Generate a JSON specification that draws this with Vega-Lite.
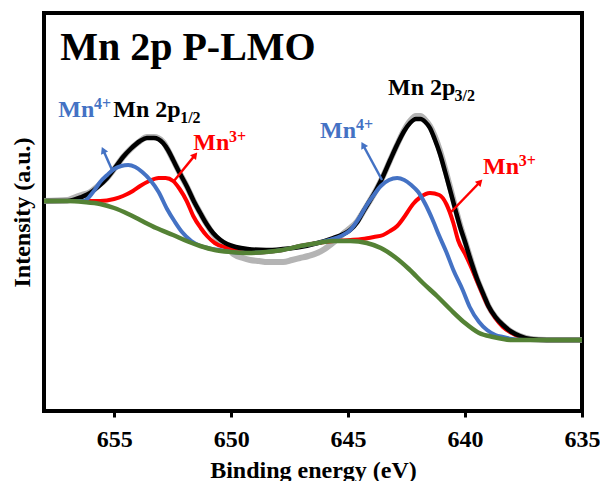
{
  "$schema": "https://vega.github.io/schema/vega-lite/v6.json",
  "width": 538,
  "height": 398,
  "autosize": {"type": "none"},
  "padding": {"left": 44, "top": 13, "right": 18, "bottom": 70},
  "background": "white",
  "config": {"view": {"stroke": "black", "strokeWidth": 4}, "font": "Liberation Serif"},
  "datasets": {
    "curves": [
      {"s":"raw","x":658.0,"y":211},{"s":"raw","x":657.0,"y":212},{"s":"raw","x":656.75,"y":214},{"s":"raw","x":656.4,"y":217},{"s":"raw","x":656.03,"y":220},{"s":"raw","x":655.7,"y":226},{"s":"raw","x":655.3,"y":234},{"s":"raw","x":655.0,"y":243},{"s":"raw","x":654.62,"y":255},{"s":"raw","x":654.3,"y":263},{"s":"raw","x":653.89,"y":271},{"s":"raw","x":653.6,"y":275},{"s":"raw","x":653.3,"y":275},{"s":"raw","x":652.91,"y":270},{"s":"raw","x":652.7,"y":262},{"s":"raw","x":652.48,"y":252},{"s":"raw","x":652.2,"y":239},{"s":"raw","x":651.88,"y":225},{"s":"raw","x":651.6,"y":211},{"s":"raw","x":651.32,"y":199},{"s":"raw","x":651.05,"y":188},{"s":"raw","x":650.77,"y":178},{"s":"raw","x":650.45,"y":170},{"s":"raw","x":650.17,"y":164},{"s":"raw","x":649.9,"y":158},{"s":"raw","x":649.5,"y":154},{"s":"raw","x":649.19,"y":152},{"s":"raw","x":648.8,"y":151},{"s":"raw","x":648.46,"y":150},{"s":"raw","x":647.78,"y":150},{"s":"raw","x":647.4,"y":152},{"s":"raw","x":647.05,"y":154},{"s":"raw","x":646.7,"y":156},{"s":"raw","x":646.32,"y":159},{"s":"raw","x":646.0,"y":163},{"s":"raw","x":645.77,"y":167},{"s":"raw","x":645.45,"y":173},{"s":"raw","x":645.13,"y":180},{"s":"raw","x":644.91,"y":184},{"s":"raw","x":644.6,"y":191},{"s":"raw","x":644.36,"y":200},{"s":"raw","x":644.1,"y":210},{"s":"raw","x":643.8,"y":222},{"s":"raw","x":643.5,"y":236},{"s":"raw","x":643.2,"y":252},{"s":"raw","x":642.91,"y":267},{"s":"raw","x":642.6,"y":282},{"s":"raw","x":642.35,"y":291},{"s":"raw","x":642.1,"y":296},{"s":"raw","x":641.9,"y":296},{"s":"raw","x":641.7,"y":292},{"s":"raw","x":641.5,"y":286},{"s":"raw","x":641.3,"y":276},{"s":"raw","x":641.07,"y":261},{"s":"raw","x":640.85,"y":243},{"s":"raw","x":640.64,"y":225},{"s":"raw","x":640.4,"y":203},{"s":"raw","x":640.21,"y":187},{"s":"raw","x":640.0,"y":171},{"s":"raw","x":639.79,"y":155},{"s":"raw","x":639.5,"y":134},{"s":"raw","x":639.2,"y":117},{"s":"raw","x":639.0,"y":106},{"s":"raw","x":638.7,"y":95},{"s":"raw","x":638.38,"y":87},{"s":"raw","x":638.0,"y":80},{"s":"raw","x":637.65,"y":76},{"s":"raw","x":637.2,"y":73},{"s":"raw","x":636.5,"y":72},{"s":"raw","x":635.0,"y":72},

      {"s":"fit","x":658.0,"y":211},{"s":"fit","x":657.0,"y":211},{"s":"fit","x":656.75,"y":212},{"s":"fit","x":656.4,"y":215},{"s":"fit","x":656.03,"y":219},{"s":"fit","x":655.7,"y":225},{"s":"fit","x":655.3,"y":234},{"s":"fit","x":655.0,"y":243},{"s":"fit","x":654.62,"y":255},{"s":"fit","x":654.3,"y":263},{"s":"fit","x":653.89,"y":271},{"s":"fit","x":653.6,"y":274},{"s":"fit","x":653.3,"y":274},{"s":"fit","x":652.91,"y":269},{"s":"fit","x":652.7,"y":262},{"s":"fit","x":652.48,"y":252},{"s":"fit","x":652.2,"y":239},{"s":"fit","x":651.88,"y":225},{"s":"fit","x":651.6,"y":211},{"s":"fit","x":651.32,"y":199},{"s":"fit","x":651.05,"y":188},{"s":"fit","x":650.77,"y":179},{"s":"fit","x":650.45,"y":172},{"s":"fit","x":650.17,"y":168},{"s":"fit","x":649.8,"y":165},{"s":"fit","x":649.3,"y":163},{"s":"fit","x":648.5,"y":162},{"s":"fit","x":647.8,"y":163},{"s":"fit","x":647.05,"y":165},{"s":"fit","x":646.3,"y":169},{"s":"fit","x":645.64,"y":174},{"s":"fit","x":645.2,"y":178},{"s":"fit","x":644.91,"y":182},{"s":"fit","x":644.6,"y":190},{"s":"fit","x":644.36,"y":200},{"s":"fit","x":644.1,"y":210},{"s":"fit","x":643.8,"y":222},{"s":"fit","x":643.5,"y":236},{"s":"fit","x":643.2,"y":252},{"s":"fit","x":642.91,"y":267},{"s":"fit","x":642.6,"y":281},{"s":"fit","x":642.35,"y":289},{"s":"fit","x":642.1,"y":293},{"s":"fit","x":641.9,"y":293},{"s":"fit","x":641.7,"y":290},{"s":"fit","x":641.5,"y":284},{"s":"fit","x":641.3,"y":273},{"s":"fit","x":641.07,"y":258},{"s":"fit","x":640.85,"y":240},{"s":"fit","x":640.64,"y":222},{"s":"fit","x":640.4,"y":201},{"s":"fit","x":640.21,"y":185},{"s":"fit","x":640.0,"y":170},{"s":"fit","x":639.79,"y":154},{"s":"fit","x":639.5,"y":134},{"s":"fit","x":639.2,"y":117},{"s":"fit","x":639.0,"y":106},{"s":"fit","x":638.7,"y":95},{"s":"fit","x":638.38,"y":87},{"s":"fit","x":638.0,"y":80},{"s":"fit","x":637.65,"y":76},{"s":"fit","x":637.2,"y":73},{"s":"fit","x":636.5,"y":72},{"s":"fit","x":635.0,"y":72},

      {"s":"Mn4+","x":658.0,"y":211},{"s":"Mn4+","x":657.0,"y":211},{"s":"Mn4+","x":656.3,"y":211},{"s":"Mn4+","x":655.9,"y":220},{"s":"Mn4+","x":655.6,"y":230},{"s":"Mn4+","x":655.3,"y":237},{"s":"Mn4+","x":655.0,"y":243},{"s":"Mn4+","x":654.7,"y":246},{"s":"Mn4+","x":654.4,"y":247},{"s":"Mn4+","x":654.1,"y":245},{"s":"Mn4+","x":653.8,"y":240},{"s":"Mn4+","x":653.46,"y":232},{"s":"Mn4+","x":653.1,"y":220},{"s":"Mn4+","x":652.74,"y":203},{"s":"Mn4+","x":652.4,"y":190},{"s":"Mn4+","x":652.1,"y":180},{"s":"Mn4+","x":651.7,"y":171},{"s":"Mn4+","x":651.3,"y":166},{"s":"Mn4+","x":651.0,"y":164},{"s":"Mn4+","x":650.5,"y":162},{"s":"Mn4+","x":650.0,"y":160},{"s":"Mn4+","x":649.3,"y":159},{"s":"Mn4+","x":648.5,"y":160},{"s":"Mn4+","x":647.8,"y":162},{"s":"Mn4+","x":647.05,"y":166},{"s":"Mn4+","x":646.3,"y":169},{"s":"Mn4+","x":645.8,"y":172},{"s":"Mn4+","x":645.3,"y":176},{"s":"Mn4+","x":644.9,"y":182},{"s":"Mn4+","x":644.5,"y":195},{"s":"Mn4+","x":644.2,"y":207},{"s":"Mn4+","x":643.9,"y":217},{"s":"Mn4+","x":643.6,"y":226},{"s":"Mn4+","x":643.25,"y":232},{"s":"Mn4+","x":642.9,"y":234},{"s":"Mn4+","x":642.6,"y":232},{"s":"Mn4+","x":642.3,"y":227},{"s":"Mn4+","x":642.0,"y":220},{"s":"Mn4+","x":641.7,"y":208},{"s":"Mn4+","x":641.4,"y":193},{"s":"Mn4+","x":641.1,"y":176},{"s":"Mn4+","x":640.8,"y":160},{"s":"Mn4+","x":640.5,"y":142},{"s":"Mn4+","x":640.1,"y":122},{"s":"Mn4+","x":639.8,"y":105},{"s":"Mn4+","x":639.4,"y":90},{"s":"Mn4+","x":639.06,"y":82},{"s":"Mn4+","x":638.7,"y":77},{"s":"Mn4+","x":638.38,"y":75},{"s":"Mn4+","x":638.0,"y":73},{"s":"Mn4+","x":637.5,"y":72},{"s":"Mn4+","x":635.0,"y":72},

      {"s":"Mn3+","x":658.0,"y":211},{"s":"Mn3+","x":657.0,"y":211},{"s":"Mn3+","x":656.3,"y":211},{"s":"Mn3+","x":655.6,"y":211},{"s":"Mn3+","x":655.0,"y":213},{"s":"Mn3+","x":654.62,"y":216},{"s":"Mn3+","x":654.2,"y":221},{"s":"Mn3+","x":653.89,"y":226},{"s":"Mn3+","x":653.5,"y":231},{"s":"Mn3+","x":653.1,"y":234},{"s":"Mn3+","x":652.8,"y":234},{"s":"Mn3+","x":652.48,"y":231},{"s":"Mn3+","x":652.2,"y":223},{"s":"Mn3+","x":651.9,"y":211},{"s":"Mn3+","x":651.62,"y":196},{"s":"Mn3+","x":651.3,"y":184},{"s":"Mn3+","x":651.03,"y":176},{"s":"Mn3+","x":650.7,"y":169},{"s":"Mn3+","x":650.17,"y":164},{"s":"Mn3+","x":649.6,"y":160},{"s":"Mn3+","x":649.3,"y":159},{"s":"Mn3+","x":648.5,"y":160},{"s":"Mn3+","x":647.8,"y":162},{"s":"Mn3+","x":647.05,"y":166},{"s":"Mn3+","x":646.3,"y":169},{"s":"Mn3+","x":645.6,"y":171},{"s":"Mn3+","x":644.9,"y":172},{"s":"Mn3+","x":644.4,"y":173},{"s":"Mn3+","x":643.9,"y":175},{"s":"Mn3+","x":643.5,"y":177},{"s":"Mn3+","x":643.2,"y":181},{"s":"Mn3+","x":642.9,"y":186},{"s":"Mn3+","x":642.6,"y":195},{"s":"Mn3+","x":642.22,"y":208},{"s":"Mn3+","x":641.9,"y":215},{"s":"Mn3+","x":641.5,"y":219},{"s":"Mn3+","x":641.1,"y":217},{"s":"Mn3+","x":640.8,"y":208},{"s":"Mn3+","x":640.5,"y":189},{"s":"Mn3+","x":640.3,"y":172},{"s":"Mn3+","x":640.0,"y":158},{"s":"Mn3+","x":639.8,"y":148},{"s":"Mn3+","x":639.4,"y":126},{"s":"Mn3+","x":639.06,"y":108},{"s":"Mn3+","x":638.7,"y":94},{"s":"Mn3+","x":638.38,"y":85},{"s":"Mn3+","x":638.0,"y":79},{"s":"Mn3+","x":637.65,"y":75},{"s":"Mn3+","x":637.0,"y":72},{"s":"Mn3+","x":635.0,"y":72},

      {"s":"bg","x":658.0,"y":211},{"s":"bg","x":657.0,"y":211},{"s":"bg","x":656.3,"y":210},{"s":"bg","x":655.6,"y":208},{"s":"bg","x":655.0,"y":204},{"s":"bg","x":654.4,"y":198},{"s":"bg","x":653.89,"y":192},{"s":"bg","x":653.2,"y":184},{"s":"bg","x":652.48,"y":177},{"s":"bg","x":651.9,"y":171},{"s":"bg","x":651.32,"y":166},{"s":"bg","x":650.7,"y":162},{"s":"bg","x":650.0,"y":160},{"s":"bg","x":649.3,"y":159},{"s":"bg","x":648.5,"y":160},{"s":"bg","x":647.8,"y":162},{"s":"bg","x":647.05,"y":166},{"s":"bg","x":646.3,"y":169},{"s":"bg","x":645.6,"y":171},{"s":"bg","x":644.9,"y":171},{"s":"bg","x":644.2,"y":169},{"s":"bg","x":643.6,"y":164},{"s":"bg","x":643.0,"y":155},{"s":"bg","x":642.4,"y":143},{"s":"bg","x":641.8,"y":129},{"s":"bg","x":641.2,"y":116},{"s":"bg","x":640.6,"y":102},{"s":"bg","x":640.0,"y":89},{"s":"bg","x":639.4,"y":79},{"s":"bg","x":638.8,"y":75},{"s":"bg","x":638.0,"y":72},{"s":"bg","x":637.0,"y":72},{"s":"bg","x":635.0,"y":72}
    ],
    "arrows": [
      {"a":"lb","c":"Mn4+","x":655.09,"y":242,"x2":655.47,"y2":262},
      {"a":"lr","c":"Mn3+","x":652.48,"y":230,"x2":651.54,"y2":257},
      {"a":"rb","c":"Mn4+","x":643.55,"y":232,"x2":644.36,"y2":267},
      {"a":"rr","c":"Mn3+","x":640.64,"y":199,"x2":639.36,"y2":230}
    ],
    "labels": [
      {"t":"Mn 2p P-LMO","c":"fit","k":"title","x":657.31,"y":352},
      {"t":"Mn","c":"Mn4+","k":"main","x":657.39,"y":295},
      {"t":"4+","c":"Mn4+","k":"small","x":655.86,"y":303},
      {"t":"Mn 2p","c":"fit","k":"main","x":655.04,"y":295},
      {"t":"1/2","c":"fit","k":"small","x":652.18,"y":289},
      {"t":"Mn","c":"Mn3+","k":"main","x":651.62,"y":262},
      {"t":"3+","c":"Mn3+","k":"small","x":650.09,"y":270},
      {"t":"Mn 2p","c":"fit","k":"main","x":643.29,"y":317},
      {"t":"3/2","c":"fit","k":"small","x":640.45,"y":311},
      {"t":"Mn","c":"Mn4+","k":"main","x":646.2,"y":274},
      {"t":"4+","c":"Mn4+","k":"small","x":644.66,"y":282},
      {"t":"Mn","c":"Mn3+","k":"main","x":639.23,"y":238},
      {"t":"3+","c":"Mn3+","k":"small","x":637.7,"y":246}
    ]
  },
  "encoding": {
    "x": {"field": "x", "type": "quantitative",
      "scale": {"domain": [635, 658.0], "reverse": true, "nice": false, "zero": false},
      "axis": {"values": [655, 650, 645, 640, 635], "title": "Binding energy (eV)", "grid": false, "domain": false,
        "labelFont": "Liberation Serif", "labelFontSize": 24, "labelFontWeight": "bold", "labelColor": "black", "labelFlush": false,
        "tickColor": "black", "tickWidth": 3, "tickSize": 6, "labelPadding": 10,
        "titleFont": "Liberation Serif", "titleFontSize": 24, "titleFontWeight": "bold", "titleColor": "black", "titlePadding": 7}},
    "y": {"field": "y", "type": "quantitative",
      "scale": {"domain": [1, 399], "nice": false, "zero": false},
      "axis": {"title": "Intensity (a.u.)", "labels": false, "ticks": false, "domain": false, "grid": false,
        "titleFont": "Liberation Serif", "titleFontSize": 24, "titleFontWeight": "bold", "titleColor": "black", "titlePadding": 10}}
  },
  "layer": [
    {"data": {"name": "curves"}, "transform": [{"filter": {"field": "s", "equal": "raw"}}],
     "mark": {"type": "line", "color": "#b4b4b4", "strokeWidth": 6, "interpolate": "monotone", "clip": true}},
    {"data": {"name": "curves"}, "transform": [{"filter": {"field": "s", "equal": "Mn3+"}}],
     "mark": {"type": "line", "color": "#ff0000", "strokeWidth": 4, "interpolate": "monotone", "clip": true}},
    {"data": {"name": "curves"}, "transform": [{"filter": {"field": "s", "equal": "fit"}}],
     "mark": {"type": "line", "color": "#000000", "strokeWidth": 4.5, "interpolate": "monotone", "clip": true}},
    {"data": {"name": "curves"}, "transform": [{"filter": {"field": "s", "equal": "Mn4+"}}],
     "mark": {"type": "line", "color": "#4472c4", "strokeWidth": 4, "interpolate": "monotone", "clip": true}},
    {"data": {"name": "curves"}, "transform": [{"filter": {"field": "s", "equal": "bg"}}],
     "mark": {"type": "line", "color": "#548235", "strokeWidth": 4.5, "interpolate": "monotone", "clip": true}},
    {"data": {"name": "arrows"}, "mark": {"type": "rule", "strokeWidth": 2.5},
     "encoding": {"x2": {"field": "x2"}, "y2": {"field": "y2"},
       "color": {"field": "c", "type": "nominal", "scale": {"domain": ["fit", "Mn4+", "Mn3+"], "range": ["#000000", "#4472c4", "#ff0000"]}, "legend": null}}},
    {"data": {"name": "arrows"}, "transform": [{"filter": {"field": "a", "equal": "lb"}}],
     "mark": {"type": "point", "shape": "triangle-up", "filled": true, "opacity": 1, "size": 60, "angle": 336, "color": "#4472c4"},
     "encoding": {"x": {"field": "x2", "type": "quantitative"}, "y": {"field": "y2", "type": "quantitative"}}},
    {"data": {"name": "arrows"}, "transform": [{"filter": {"field": "a", "equal": "lr"}}],
     "mark": {"type": "point", "shape": "triangle-up", "filled": true, "opacity": 1, "size": 60, "angle": 39, "color": "#ff0000"},
     "encoding": {"x": {"field": "x2", "type": "quantitative"}, "y": {"field": "y2", "type": "quantitative"}}},
    {"data": {"name": "arrows"}, "transform": [{"filter": {"field": "a", "equal": "rb"}}],
     "mark": {"type": "point", "shape": "triangle-up", "filled": true, "opacity": 1, "size": 60, "angle": 331, "color": "#4472c4"},
     "encoding": {"x": {"field": "x2", "type": "quantitative"}, "y": {"field": "y2", "type": "quantitative"}}},
    {"data": {"name": "arrows"}, "transform": [{"filter": {"field": "a", "equal": "rr"}}],
     "mark": {"type": "point", "shape": "triangle-up", "filled": true, "opacity": 1, "size": 60, "angle": 44, "color": "#ff0000"},
     "encoding": {"x": {"field": "x2", "type": "quantitative"}, "y": {"field": "y2", "type": "quantitative"}}},
    {"data": {"name": "labels"}, "transform": [{"filter": {"field": "k", "equal": "title"}}],
     "mark": {"type": "text", "align": "left", "baseline": "alphabetic", "font": "Liberation Serif", "fontWeight": "bold", "fontSize": 40},
     "encoding": {"text": {"field": "t"}, "color": {"field": "c", "type": "nominal", "legend": null}}},
    {"data": {"name": "labels"}, "transform": [{"filter": {"field": "k", "equal": "main"}}],
     "mark": {"type": "text", "align": "left", "baseline": "alphabetic", "font": "Liberation Serif", "fontWeight": "bold", "fontSize": 24},
     "encoding": {"text": {"field": "t"}, "color": {"field": "c", "type": "nominal", "legend": null}}},
    {"data": {"name": "labels"}, "transform": [{"filter": {"field": "k", "equal": "small"}}],
     "mark": {"type": "text", "align": "left", "baseline": "alphabetic", "font": "Liberation Serif", "fontWeight": "bold", "fontSize": 16},
     "encoding": {"text": {"field": "t"}, "color": {"field": "c", "type": "nominal", "legend": null}}}
  ]
}
